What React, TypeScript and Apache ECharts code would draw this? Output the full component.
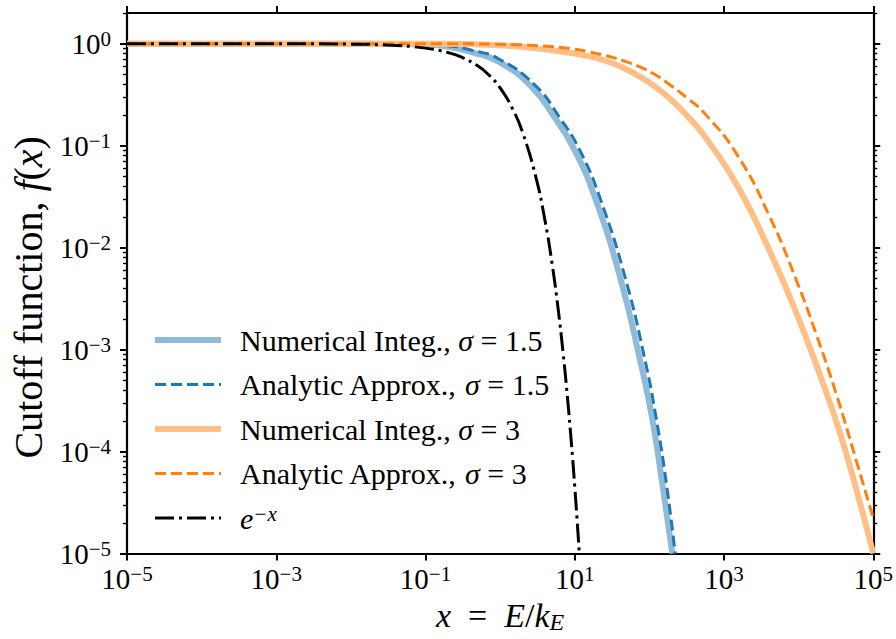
import React, { useEffect, useRef } from 'react';
import * as echarts from 'echarts';

// ---- data ----
const numerical15X = [1e-5, 0.01, 0.03, 0.1, 0.203, 0.436, 0.94, 2.51, 5.41, 10, 18.5, 41.0, 75.9, 109.6, 149, 203];
const numerical15Y = [1, 1, 0.995, 0.978, 0.935, 0.818, 0.669, 0.392, 0.1876, 0.0898, 0.0315, 0.00494, 7.59e-4, 2.08e-4, 4.88e-5, 1e-5];

const analytic15X = [1e-5, 0.01, 0.03, 0.1, 0.203, 0.436, 0.94, 2.93, 6.31, 11.7, 21.5, 47.9, 88.4, 124, 169, 222];
const analytic15Y = [1, 1, 0.998, 0.989, 0.956, 0.855, 0.716, 0.392, 0.1876, 0.0898, 0.0315, 0.00494, 7.59e-4, 2.08e-4, 4.88e-5, 1e-5];

const numerical3X = [1e-5, 0.149, 0.94, 3.21, 8.07, 14.9, 25.1, 43.7, 69.2, 117, 191, 321, 541, 1490, 4100, 9400, 19050, 35200, 59300, 1e5];
const numerical3Y = [1, 1, 0.967, 0.895, 0.818, 0.757, 0.684, 0.585, 0.49, 0.383, 0.2867, 0.196, 0.1256, 0.0411, 0.00923, 0.00226, 5.8e-4, 1.59e-4, 4.26e-5, 1e-5];

const analytic3X = [1e-5, 0.149, 1.74, 3.21, 8.85, 14.9, 27.5, 43.7, 69.2, 117, 191, 321, 541, 1490, 4100, 9400, 17400, 32100, 59300, 1e5];
const analytic3Y = [1, 1, 0.978, 0.956, 0.895, 0.837, 0.757, 0.684, 0.605, 0.501, 0.392, 0.293, 0.21, 0.0822, 0.0201, 0.00472, 0.001385, 3.63e-4, 8.14e-5, 2.23e-5];

const expX = [1e-5, 1e-3, 0.01, 0.03, 0.1, 0.2, 0.3, 0.5, 0.7, 1, 1.5, 2, 3, 4, 5, 6, 7, 8, 9, 10, 11, 11.5, 11.7];
const expY = [1, 0.999, 0.99, 0.97, 0.905, 0.819, 0.741, 0.607, 0.497, 0.368, 0.223, 0.135, 0.0498, 0.0183, 6.74e-3, 2.48e-3, 9.12e-4, 3.35e-4, 1.23e-4, 4.54e-5, 1.67e-5, 1.01e-5, 8.3e-6];

const seriesNames = [
  'Numerical Integ., σ = 1.5',
  'Analytic Approx., σ = 1.5',
  'Numerical Integ., σ = 3',
  'Analytic Approx., σ = 3',
  'e^-x',
];

const xMajorTicks = [1e-5, 1e-3, 1e-1, 1e1, 1e3, 1e5];
const yMajorTicks = [1e-5, 1e-4, 1e-3, 1e-2, 1e-1, 1];
const yMinorTicks = [-5, -4, -3, -2, -1].flatMap((k) => [2, 3, 4, 5, 6, 7, 8, 9].map((m) => m * Math.pow(10, k))).concat([2]);

const FONT = 'Liberation Serif';

const zip = (xs: number[], ys: number[]) => xs.map((x, i) => [x, ys[i]]);

const expLabel = (v: number) => {
  const e = Math.round(Math.log10(v));
  const s = e < 0 ? '\u2212' + -e : String(e);
  return `{b|10}{s|${s}}`;
};

const labelRich = {
  b: { fontFamily: FONT, fontSize: 29, lineHeight: 30, color: '#000' },
  s: { fontFamily: FONT, fontSize: 21, lineHeight: 17, color: '#000', verticalAlign: 'top' },
};

export default function App() {
  const ref = useRef<HTMLDivElement>(null);
  useEffect(() => {
    if (!ref.current) return;
    const chart = echarts.init(ref.current, undefined, { renderer: 'svg' });

    const axisLineStyle = { color: '#000', width: 2.2 };
    const majorTick = { length: 7, lineStyle: { color: '#000', width: 2 } };
    const minorTick = { length: 4, lineStyle: { color: '#000', width: 1.4 } };

    const xBase = {
      type: 'log',
      logBase: 10,
      min: 1e-5,
      max: 1e5,
      gridIndex: 0,
      splitLine: { show: false },
      minorTick: { show: false },
    };
    const yBase = {
      type: 'log',
      logBase: 10,
      min: 1e-5,
      max: 2,
      gridIndex: 0,
      splitLine: { show: false },
      minorTick: { show: false },
    };

    const lineCommon = {
      type: 'line',
      symbol: 'none',
      showSymbol: false,
      smooth: 0.5,
      xAxisIndex: 0,
      yAxisIndex: 0,
      clip: true,
    };

    const option: any = {
      animation: false,
      backgroundColor: '#fff',
      grid: { left: 127, right: 19, top: 13, bottom: 78, containLabel: false },
      xAxis: [
        {
          ...xBase,
          position: 'bottom',
          axisLine: { show: true, lineStyle: axisLineStyle },
          axisTick: { show: true, customValues: xMajorTicks, ...majorTick },
          axisLabel: {
            show: true,
            customValues: xMajorTicks,
            margin: 10,
            formatter: (v: number) => expLabel(v),
            rich: labelRich,
          },
          name: '{i|x}{t|\u2002=\u2002}{i|E}{t|/}{i|k}{sub|E}',
          nameLocation: 'middle',
          nameGap: 37,
          nameTextStyle: {
            fontFamily: FONT,
            fontSize: 34,
            color: '#000',
            rich: {
              i: { fontFamily: FONT, fontSize: 34, fontStyle: 'italic', color: '#000', lineHeight: 38 },
              t: { fontFamily: FONT, fontSize: 34, color: '#000', lineHeight: 38 },
              sub: { fontFamily: FONT, fontSize: 24, fontStyle: 'italic', color: '#000', lineHeight: 24, verticalAlign: 'bottom' },
            },
          },
        },
        {
          ...xBase,
          position: 'top',
          axisLine: { show: true, lineStyle: axisLineStyle },
          axisTick: { show: true, customValues: xMajorTicks, ...majorTick },
          axisLabel: { show: false },
        },
      ],
      yAxis: [
        {
          ...yBase,
          position: 'left',
          axisLine: { show: true, lineStyle: axisLineStyle },
          axisTick: { show: true, customValues: yMajorTicks, ...majorTick },
          axisLabel: {
            show: true,
            customValues: yMajorTicks,
            margin: 16,
            formatter: (v: number) => expLabel(v),
            rich: labelRich,
          },
          name: '{t|Cutoff function, }{i|f}{t|(}{i|x}{t|)}',
          nameLocation: 'middle',
          nameGap: 71,
          nameRotate: 90,
          nameTextStyle: {
            fontFamily: FONT,
            fontSize: 40,
            color: '#000',
            padding: [0, 28, 0, 0],
            rich: {
              t: { fontFamily: FONT, fontSize: 40, color: '#000' },
              i: { fontFamily: FONT, fontSize: 40, fontStyle: 'italic', color: '#000' },
            },
          },
        },
        {
          ...yBase,
          position: 'left',
          axisLine: { show: false },
          axisTick: { show: true, customValues: yMinorTicks, ...minorTick },
          axisLabel: { show: false },
        },
        {
          ...yBase,
          position: 'right',
          axisLine: { show: true, lineStyle: axisLineStyle },
          axisTick: { show: true, customValues: yMajorTicks, ...majorTick },
          axisLabel: { show: false },
        },
        {
          ...yBase,
          position: 'right',
          axisLine: { show: false },
          axisTick: { show: true, customValues: yMinorTicks, ...minorTick },
          axisLabel: { show: false },
        },
      ],
      legend: {
        orient: 'vertical',
        left: 152,
        top: 325,
        padding: 0,
        itemWidth: 66,
        itemHeight: 14,
        itemGap: 14.5,
        selectedMode: false,
        lineStyle: { width: 'inherit' },
        itemStyle: { color: 'transparent', borderColor: 'transparent', borderWidth: 0, opacity: 0 },
        data: seriesNames.map((n) => ({ name: n })),
        formatter: (name: string) => {
          if (name === 'e^-x') return '{g| }{m|e}{sup|\u2212x}';
          const idx = name.indexOf('σ');
          const pre = name.slice(0, idx);
          const post = name.slice(idx + 1);
          return `{g| }{t|${pre}}{m|σ}{t|${post}}`;
        },
        textStyle: {
          fontFamily: FONT,
          fontSize: 30,
          color: '#000',
          rich: {
            g: { width: 14, fontSize: 10, lineHeight: 30 },
            t: { fontFamily: FONT, fontSize: 30, color: '#000', lineHeight: 30 },
            m: { fontFamily: FONT, fontSize: 30, fontStyle: 'italic', color: '#000', lineHeight: 30 },
            sup: { fontFamily: FONT, fontSize: 21, fontStyle: 'italic', color: '#000', lineHeight: 18, verticalAlign: 'top' },
          },
        },
      },
      series: [
        {
          ...lineCommon,
          name: seriesNames[0],
          data: zip(numerical15X, numerical15Y),
          lineStyle: { color: '#8fbbd9', width: 6, type: 'solid' },
          itemStyle: { color: '#8fbbd9' },
          z: 2,
        },
        {
          ...lineCommon,
          name: seriesNames[1],
          data: zip(analytic15X, analytic15Y),
          lineStyle: { color: '#1f77b4', width: 3, type: [11, 5] },
          itemStyle: { color: '#1f77b4' },
          z: 3,
        },
        {
          ...lineCommon,
          name: seriesNames[2],
          data: zip(numerical3X, numerical3Y),
          lineStyle: { color: '#ffbf86', width: 6, type: 'solid' },
          itemStyle: { color: '#ffbf86' },
          z: 4,
        },
        {
          ...lineCommon,
          name: seriesNames[3],
          data: zip(analytic3X, analytic3Y),
          lineStyle: { color: '#ff7f0e', width: 3, type: [11, 5] },
          itemStyle: { color: '#ff7f0e' },
          z: 5,
        },
        {
          ...lineCommon,
          name: seriesNames[4],
          data: zip(expX, expY),
          lineStyle: { color: '#000', width: 3, type: [19, 5, 3, 5] },
          itemStyle: { color: '#000' },
          z: 6,
        },
      ],
    };

    chart.setOption(option);
    return () => chart.dispose();
  }, []);

  return (
    <div
      ref={ref}
      style={{ position: 'absolute', left: 0, top: 0, width: 896, height: 639, background: '#fff' }}
    />
  );
}
